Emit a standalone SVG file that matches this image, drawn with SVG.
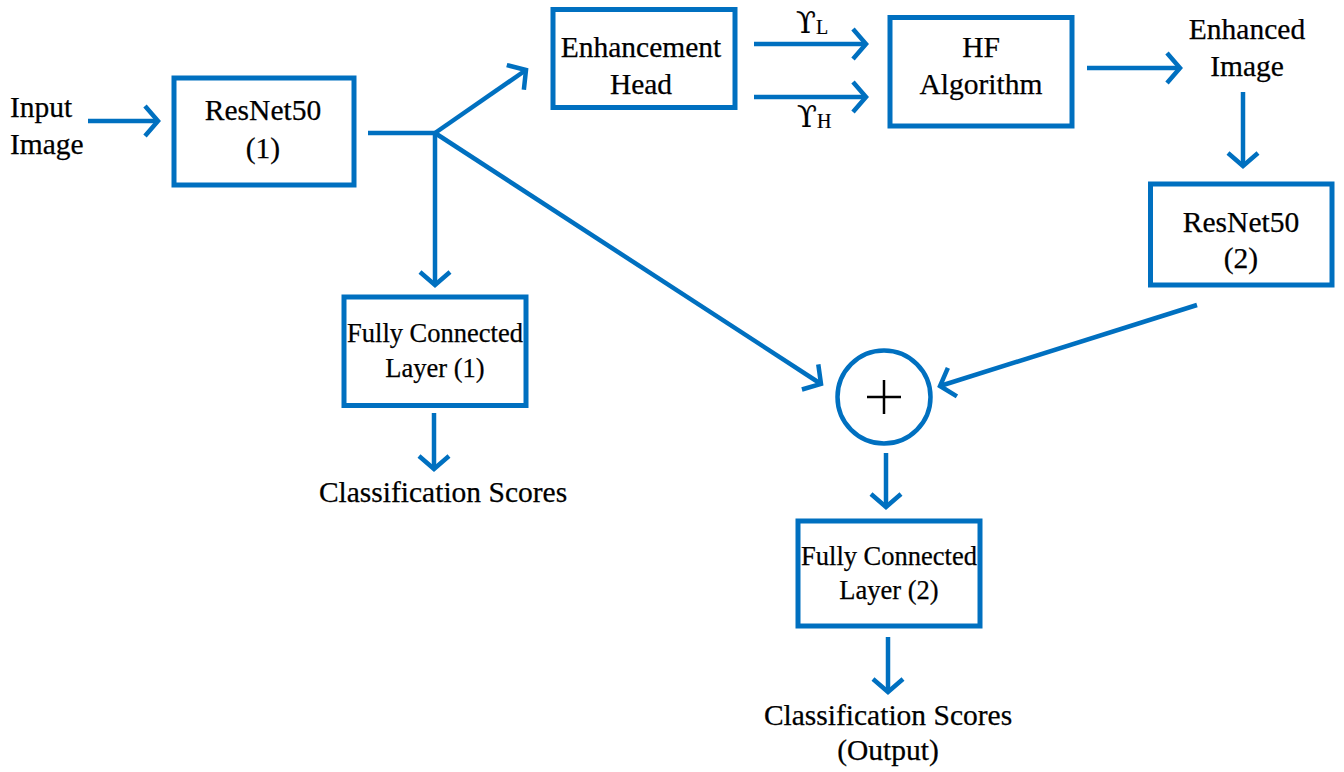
<svg xmlns="http://www.w3.org/2000/svg" width="1344" height="772" viewBox="0 0 1344 772">
<defs>
<style>
.box{fill:#fff;stroke:#0070C0;stroke-width:5}
.ln{fill:none;stroke:#0070C0;stroke-width:4.5;marker-end:url(#ah)}
.pl{fill:none;stroke:#0070C0;stroke-width:4.5}
text{font-family:"Liberation Serif","Times New Roman",serif;fill:#000;stroke:#000;stroke-width:0.25;font-size:29.5px;text-anchor:middle}
.sm{font-size:26.5px}
.st{text-anchor:start}
.g{font-family:"DejaVu Serif",serif;font-size:29px;stroke-width:0.2}
.sub{font-family:"Liberation Serif","Times New Roman",serif;font-size:20px}
</style>
<marker id="ah" markerUnits="userSpaceOnUse" orient="auto" refX="0" refY="0" overflow="visible" markerWidth="30" markerHeight="30">
<path d="M-13,-15 L0,0 L-13,15" fill="none" stroke="#0070C0" stroke-width="4.5" stroke-linejoin="miter"/>
</marker>
</defs>
<rect width="1344" height="772" fill="#fff"/>

<g id="connectors">
<line class="ln" x1="88" y1="121" x2="158" y2="121"/>
<line class="pl" x1="368" y1="133" x2="437" y2="133"/>
<line class="ln" x1="435" y1="133" x2="526" y2="70"/>
<line class="ln" x1="435" y1="133" x2="435" y2="285"/>
<line class="ln" x1="435" y1="133" x2="821" y2="384"/>
<line class="ln" x1="754" y1="44" x2="866" y2="44"/>
<line class="ln" x1="754" y1="97" x2="866" y2="97"/>
<line class="ln" x1="1087" y1="68" x2="1180" y2="68"/>
<line class="ln" x1="1243" y1="92" x2="1243" y2="166"/>
<line class="ln" x1="1197" y1="305" x2="940" y2="386"/>
<line class="ln" x1="886" y1="453" x2="886" y2="507"/>
<line class="ln" x1="434" y1="413" x2="434" y2="469"/>
<line class="ln" x1="888" y1="637" x2="888" y2="692"/>
</g>

<g id="input-image">
<text x="10" y="117" class="st">Input</text>
<text x="10" y="154" class="st">Image</text>
</g>

<g id="resnet1">
<rect class="box" x="174" y="78" width="180" height="107"/>
<text x="263" y="120">ResNet50</text>
<text x="263" y="158">(1)</text>
</g>

<g id="enhancement-head">
<rect class="box" x="553" y="9.5" width="182" height="98"/>
<text x="641" y="57">Enhancement</text>
<text x="641" y="94">Head</text>
</g>

<g id="gamma-labels">
<text x="796" y="33" class="g st">ϒ<tspan class="sub" dy="1">L</tspan></text>
<text x="797" y="127" class="g st">ϒ<tspan class="sub" dy="1">H</tspan></text>
</g>

<g id="hf-algorithm">
<rect class="box" x="890" y="17.5" width="182" height="108.5"/>
<text x="981" y="57">HF</text>
<text x="981" y="94">Algorithm</text>
</g>

<g id="enhanced-image">
<text x="1247" y="39">Enhanced</text>
<text x="1247" y="76">Image</text>
</g>

<g id="resnet2">
<rect class="box" x="1150.5" y="184" width="181.5" height="101"/>
<text x="1241" y="232">ResNet50</text>
<text x="1241" y="268">(2)</text>
</g>

<g id="fc1">
<rect class="box" x="344" y="297" width="182" height="108.5"/>
<text x="435" y="342" class="sm">Fully Connected</text>
<text x="435" y="377" class="sm">Layer (1)</text>
</g>

<g id="scores1">
<text x="443" y="502">Classification Scores</text>
</g>

<g id="sum">
<circle cx="884" cy="397" r="46.5" fill="#fff" stroke="#0070C0" stroke-width="4.5"/>
<line x1="867" y1="397" x2="901" y2="397" stroke="#000" stroke-width="2.5"/>
<line x1="884" y1="380" x2="884" y2="414" stroke="#000" stroke-width="2.5"/>
</g>

<g id="fc2">
<rect class="box" x="798" y="521" width="182" height="105"/>
<text x="889" y="565" class="sm">Fully Connected</text>
<text x="889" y="599" class="sm">Layer (2)</text>
</g>

<g id="scores2">
<text x="888" y="725">Classification Scores</text>
<text x="888" y="760">(Output)</text>
</g>
</svg>
